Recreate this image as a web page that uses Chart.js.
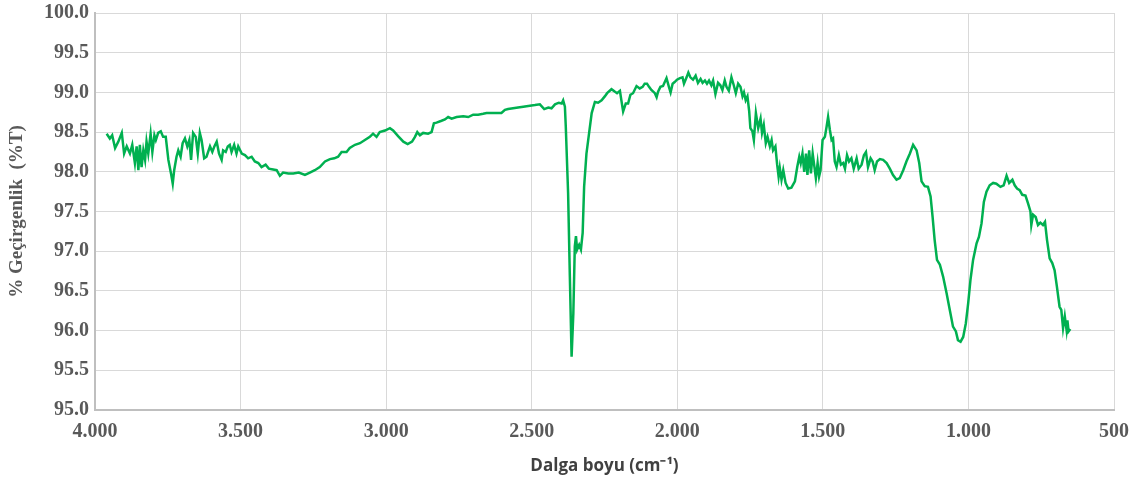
<!DOCTYPE html>
<html>
<head>
<meta charset="utf-8">
<script src="https://cdn.jsdelivr.net/npm/chart.js@4.4.1/dist/chart.umd.min.js"></script>
<style>
  body { margin: 0; background: #fff; }
</style>
</head>
<body>
<canvas id="ftirChart" width="1136" height="483"></canvas>
<script>
const wavenumbers = [
  3960,3949,3941,3931,3920,3908,3900,3891,3880,3872,3863,3857,3851,3846,3840,3834,3828,3823,3817,3809,
  3803,3796,3791,3783,3774,3766,3757,3748,3739,3733,3728,3720,3714,3706,3699,3691,3683,3676,3670,3663,
  3654,3647,3640,3634,3625,3617,3605,3597,3590,3582,3574,3565,3560,3551,3544,3537,3531,3522,3514,3508,
  3496,3485,3474,3462,3451,3439,3428,3414,3403,3388,3376,3365,3354,3336,3319,3300,3279,3262,3245,3228,
  3210,3193,3178,
  3165,3153,3136,3125,3107,3090,3073,3056,3045,3033,3022,3004,2987,2976,2959,2941,2926,2911,2901,2893,
  2884,2873,2856,2844,2836,2827,2812,2798,2787,2775,2758,2735,2718,2701,2684,2667,2655,2638,2621,2604,
  2592,2581,2564,2547,2529,2512,2489,2472,2457,2443,2432,2420,2407,2397,2392,2386,
  2383,2375,2369,2363,2357,2352,2348,2344,2337,2331,2325,2320,2312,2306,2294,2283,2272,2260,2249,2241,
  2226,2215,2207,2197,2192,2186,2177,2169,2161,2152,2140,2129,2119,2112,2104,2097,2089,2077,2071,2066,
  2058,2049,2037,2028,2023,2016,2009,2001,1991,1982,1977,1968,1962,1955,1946,1937,1929,1920,1913,1905,
  1898,1891,1883,1877,1869,1860,1852,1845,1837,1831,1823,1814,1806,1799,1791,1783,1776,1771,1765,1759,
  1753,1749,1742,1737,1730,1722,1714,1709,1703,1696,1690,1682,1676,1671,1663,1657,1652,1648,1642,1636,
  1628,1619,1608,1596,1588,1581,1576,1570,1564,1558,1553,1547,1541,1535,1530,1524,1518,1513,1508,1501,
  1493,1487,1482,1476,1470,1465,1459,1453,1445,1438,1430,1424,1417,1410,1402,1394,1384,1377,1367,1359,
  1352,1345,1336,1329,1322,1314,1304,1293,1281,1270,1259,1247,1236,1224,1213,1201,1190,1178,1169,1161,
  1150,1139,1130,1123,1116,1108,1098,1087,1075,1064,1053,1043,1036,1027,1018,1009,1001,993,984,972,
  964,955,947,938,927,915,904,890,879,869,860,849,841,833,824,815,804,795,787,784,
  778,769,761,753,744,737,730,721,712,704,696,687,681,675,669,663,660,656,650
];

// % transmittance at each wavenumber above
const transmittance = [
  98.48,98.42,98.46,98.30,98.38,98.49,98.23,98.32,98.23,98.34,98.11,98.32,98.02,98.34,98.06,98.27,98.15,98.38,98.23,98.48,
  98.25,98.46,98.40,98.49,98.51,98.44,98.44,98.15,97.98,97.85,98.02,98.19,98.27,98.19,98.36,98.42,98.32,98.40,98.15,98.49,
  98.44,98.23,98.49,98.40,98.17,98.19,98.32,98.25,98.32,98.38,98.23,98.15,98.27,98.25,98.32,98.34,98.25,98.34,98.23,98.32,
  98.23,98.21,98.17,98.19,98.13,98.11,98.06,98.09,98.04,98.03,98.02,97.95,97.99,97.98,97.98,97.99,97.96,97.99,98.02,98.06,
  98.13,98.16,98.17,
  98.19,98.25,98.25,98.30,98.34,98.36,98.40,98.44,98.48,98.44,98.50,98.52,98.55,98.52,98.45,98.38,98.35,98.38,98.44,98.50,
  98.46,98.49,98.48,98.50,98.61,98.62,98.64,98.66,98.69,98.67,98.69,98.70,98.69,98.72,98.72,98.73,98.74,98.74,98.74,98.74,
  98.78,98.79,98.80,98.81,98.82,98.83,98.84,98.85,98.79,98.81,98.80,98.85,98.87,98.86,98.90,98.82,
  98.57,97.73,96.68,95.67,96.22,97.06,97.19,97.02,97.08,97.02,97.23,97.81,98.23,98.40,98.74,98.88,98.87,98.90,98.95,98.99,
  99.04,99.01,98.99,99.02,98.90,98.76,98.86,98.86,98.97,98.99,99.08,99.05,99.07,99.11,99.11,99.07,99.03,98.99,98.94,99.01,
  99.07,99.08,99.18,99.06,99.00,99.11,99.13,99.16,99.18,99.19,99.11,99.19,99.25,99.19,99.16,99.21,99.12,99.17,99.12,99.15,
  99.11,99.15,99.09,99.15,98.98,99.12,99.09,99.03,99.15,99.07,99.02,99.19,99.09,98.99,99.11,99.07,98.95,99.00,98.90,98.95,
  98.76,98.55,98.51,98.40,98.74,98.55,98.67,98.49,98.59,98.36,98.44,98.32,98.40,98.27,98.32,98.09,97.94,98.05,97.90,98.02,
  97.86,97.79,97.80,97.88,98.06,98.19,98.11,98.23,98.00,98.23,97.96,98.27,97.98,98.23,98.09,97.92,98.11,97.94,98.02,98.40,
  98.44,98.57,98.69,98.53,98.40,98.42,98.13,98.06,98.21,98.09,98.11,98.04,98.21,98.13,98.17,98.04,98.17,98.04,98.09,98.21,
  98.25,98.06,98.17,98.13,98.02,98.13,98.16,98.15,98.11,98.04,97.96,97.90,97.92,98.02,98.13,98.23,98.34,98.27,98.11,97.88,
  97.82,97.81,97.69,97.43,97.14,96.89,96.83,96.68,96.47,96.26,96.05,95.99,95.88,95.86,95.92,96.09,96.34,96.64,96.89,97.10,
  97.18,97.35,97.62,97.75,97.83,97.86,97.85,97.81,97.83,97.95,97.86,97.90,97.83,97.79,97.77,97.71,97.70,97.60,97.50,97.33,
  97.46,97.43,97.33,97.36,97.33,97.37,97.14,96.91,96.85,96.76,96.55,96.30,96.26,96.03,96.18,96.01,96.13,95.99,96.02
];

const xTickValues = [4000, 3500, 3000, 2500, 2000, 1500, 1000, 500];
const xTickLabels = ['4.000', '3.500', '3.000', '2.500', '2.000', '1.500', '1.000', '500'];

const xTitle = 'Dalga boyu (cm\u207B\u00B9)';
const yTitle = '% Geçirgenlik  (%T)';

const points = wavenumbers.map((w, i) => ({ x: w, y: transmittance[i] }));

const tickFont = { family: 'Liberation Serif', size: 20, weight: 'bold' };

const ctx = document.getElementById('ftirChart').getContext('2d');
new Chart(ctx, {
    type: 'line',
    data: {
        datasets: [
            {
                label: '%T',
                data: points,
                borderColor: '#00b050',
                borderWidth: 2.5,
                pointRadius: 0,
                fill: false,
                tension: 0
            }
        ]
    },
    options: {
        responsive: false,
        animation: false,
        events: [],
        layout: { padding: { top: 13, right: 22, left: 0, bottom: 0 } },
        plugins: {
            legend: { display: false },
            tooltip: { enabled: false }
        },
        scales: {
            x: {
                type: 'linear',
                reverse: true,
                min: 500,
                max: 4000,
                afterBuildTicks: (scale) => {
                    scale.ticks = xTickValues.map(v => ({ value: v }));
                },
                ticks: {
                    callback: (v) => xTickLabels[xTickValues.indexOf(v)],
                    font: tickFont,
                    color: '#595959',
                    padding: 10,
                    maxRotation: 0,
                    autoSkip: false
                },
                grid: { color: '#d9d9d9', drawTicks: false },
                border: { color: '#bfbfbf', width: 2 },
                title: {
                    display: true,
                    text: xTitle,
                    font: { family: 'Open Sans', size: 17, weight: 'bold' },
                    color: '#404040',
                    padding: { top: 0, bottom: 7 }
                },
                afterFit: (scale) => {
                    scale.height = 73;
                    scale.paddingLeft = 0;
                    scale.paddingRight = 0;
                }
            },
            y: {
                min: 95,
                max: 100,
                ticks: {
                    stepSize: 0.5,
                    callback: (v) => v.toFixed(1),
                    font: tickFont,
                    color: '#595959',
                    padding: 6
                },
                grid: { color: '#d9d9d9', drawTicks: false },
                border: { color: '#bfbfbf', width: 2 },
                title: {
                    display: true,
                    text: yTitle,
                    font: { family: 'Liberation Serif', size: 19, weight: 'bold' },
                    color: '#595959',
                    padding: { top: 6, bottom: 0 }
                },
                afterFit: (scale) => {
                    scale.width = 95;
                    scale.paddingTop = 0;
                    scale.paddingBottom = 0;
                }
            }
        }
    }
});
</script>
</body>
</html>
